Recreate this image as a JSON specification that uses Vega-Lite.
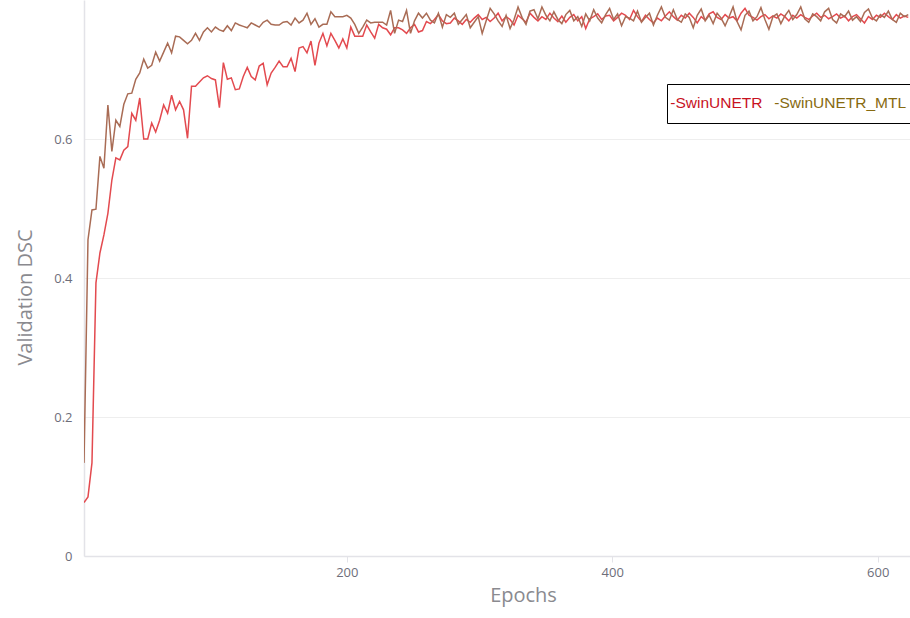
{
"$schema":"https://vega.github.io/schema/vega-lite/v6.json",
"width":826,"height":556,
"autosize":{"type":"none"},
"padding":{"left":84,"top":0,"right":0,"bottom":62},
"background":"white",
"config":{"view":{"stroke":null},"font":"Open Sans"},
"data":{"values":[
{"epoch":2,"SwinUNETR":0.077,"SwinUNETR_MTL":0.134},
{"epoch":5,"SwinUNETR":0.085,"SwinUNETR_MTL":0.455},
{"epoch":8,"SwinUNETR":0.134,"SwinUNETR_MTL":0.498},
{"epoch":11,"SwinUNETR":0.393,"SwinUNETR_MTL":0.499},
{"epoch":14,"SwinUNETR":0.436,"SwinUNETR_MTL":0.575},
{"epoch":17,"SwinUNETR":0.462,"SwinUNETR_MTL":0.558},
{"epoch":20,"SwinUNETR":0.493,"SwinUNETR_MTL":0.649},
{"epoch":23,"SwinUNETR":0.541,"SwinUNETR_MTL":0.582},
{"epoch":26,"SwinUNETR":0.573,"SwinUNETR_MTL":0.627},
{"epoch":29,"SwinUNETR":0.570,"SwinUNETR_MTL":0.618},
{"epoch":32,"SwinUNETR":0.584,"SwinUNETR_MTL":0.650},
{"epoch":35,"SwinUNETR":0.589,"SwinUNETR_MTL":0.665},
{"epoch":38,"SwinUNETR":0.637,"SwinUNETR_MTL":0.666},
{"epoch":41,"SwinUNETR":0.627,"SwinUNETR_MTL":0.686},
{"epoch":44,"SwinUNETR":0.659,"SwinUNETR_MTL":0.695},
{"epoch":47,"SwinUNETR":0.600,"SwinUNETR_MTL":0.715},
{"epoch":50,"SwinUNETR":0.600,"SwinUNETR_MTL":0.702},
{"epoch":53,"SwinUNETR":0.623,"SwinUNETR_MTL":0.706},
{"epoch":56,"SwinUNETR":0.610,"SwinUNETR_MTL":0.725},
{"epoch":59,"SwinUNETR":0.627,"SwinUNETR_MTL":0.712},
{"epoch":62,"SwinUNETR":0.649,"SwinUNETR_MTL":0.725},
{"epoch":65,"SwinUNETR":0.637,"SwinUNETR_MTL":0.738},
{"epoch":68,"SwinUNETR":0.663,"SwinUNETR_MTL":0.724},
{"epoch":71,"SwinUNETR":0.642,"SwinUNETR_MTL":0.748},
{"epoch":74,"SwinUNETR":0.654,"SwinUNETR_MTL":0.747},
{"epoch":77,"SwinUNETR":0.642,"SwinUNETR_MTL":0.742},
{"epoch":80,"SwinUNETR":0.601,"SwinUNETR_MTL":0.737},
{"epoch":83,"SwinUNETR":0.676,"SwinUNETR_MTL":0.742},
{"epoch":86,"SwinUNETR":0.676,"SwinUNETR_MTL":0.752},
{"epoch":89,"SwinUNETR":0.682,"SwinUNETR_MTL":0.742},
{"epoch":92,"SwinUNETR":0.688,"SwinUNETR_MTL":0.754},
{"epoch":95,"SwinUNETR":0.691,"SwinUNETR_MTL":0.760},
{"epoch":98,"SwinUNETR":0.687,"SwinUNETR_MTL":0.754},
{"epoch":101,"SwinUNETR":0.685,"SwinUNETR_MTL":0.761},
{"epoch":104,"SwinUNETR":0.645,"SwinUNETR_MTL":0.757},
{"epoch":107,"SwinUNETR":0.710,"SwinUNETR_MTL":0.755},
{"epoch":110,"SwinUNETR":0.686,"SwinUNETR_MTL":0.763},
{"epoch":113,"SwinUNETR":0.688,"SwinUNETR_MTL":0.756},
{"epoch":116,"SwinUNETR":0.671,"SwinUNETR_MTL":0.767},
{"epoch":119,"SwinUNETR":0.672,"SwinUNETR_MTL":0.764},
{"epoch":122,"SwinUNETR":0.690,"SwinUNETR_MTL":0.762},
{"epoch":125,"SwinUNETR":0.703,"SwinUNETR_MTL":0.760},
{"epoch":128,"SwinUNETR":0.690,"SwinUNETR_MTL":0.767},
{"epoch":131,"SwinUNETR":0.685,"SwinUNETR_MTL":0.764},
{"epoch":134,"SwinUNETR":0.705,"SwinUNETR_MTL":0.761},
{"epoch":137,"SwinUNETR":0.709,"SwinUNETR_MTL":0.768},
{"epoch":140,"SwinUNETR":0.678,"SwinUNETR_MTL":0.771},
{"epoch":143,"SwinUNETR":0.695,"SwinUNETR_MTL":0.765},
{"epoch":146,"SwinUNETR":0.703,"SwinUNETR_MTL":0.764},
{"epoch":149,"SwinUNETR":0.712,"SwinUNETR_MTL":0.764},
{"epoch":152,"SwinUNETR":0.704,"SwinUNETR_MTL":0.768},
{"epoch":155,"SwinUNETR":0.704,"SwinUNETR_MTL":0.769},
{"epoch":158,"SwinUNETR":0.716,"SwinUNETR_MTL":0.764},
{"epoch":161,"SwinUNETR":0.697,"SwinUNETR_MTL":0.774},
{"epoch":164,"SwinUNETR":0.731,"SwinUNETR_MTL":0.767},
{"epoch":167,"SwinUNETR":0.733,"SwinUNETR_MTL":0.771},
{"epoch":170,"SwinUNETR":0.724,"SwinUNETR_MTL":0.781},
{"epoch":173,"SwinUNETR":0.741,"SwinUNETR_MTL":0.765},
{"epoch":176,"SwinUNETR":0.706,"SwinUNETR_MTL":0.773},
{"epoch":179,"SwinUNETR":0.738,"SwinUNETR_MTL":0.761},
{"epoch":182,"SwinUNETR":0.752,"SwinUNETR_MTL":0.765},
{"epoch":185,"SwinUNETR":0.734,"SwinUNETR_MTL":0.765},
{"epoch":188,"SwinUNETR":0.752,"SwinUNETR_MTL":0.783},
{"epoch":191,"SwinUNETR":0.742,"SwinUNETR_MTL":0.776},
{"epoch":194,"SwinUNETR":0.731,"SwinUNETR_MTL":0.776},
{"epoch":197,"SwinUNETR":0.744,"SwinUNETR_MTL":0.776},
{"epoch":200,"SwinUNETR":0.731,"SwinUNETR_MTL":0.778},
{"epoch":203,"SwinUNETR":0.761,"SwinUNETR_MTL":0.774},
{"epoch":206,"SwinUNETR":0.748,"SwinUNETR_MTL":0.765},
{"epoch":209,"SwinUNETR":0.748,"SwinUNETR_MTL":0.752},
{"epoch":212,"SwinUNETR":0.748,"SwinUNETR_MTL":0.761},
{"epoch":215,"SwinUNETR":0.764,"SwinUNETR_MTL":0.771},
{"epoch":218,"SwinUNETR":0.754,"SwinUNETR_MTL":0.767},
{"epoch":221,"SwinUNETR":0.745,"SwinUNETR_MTL":0.768},
{"epoch":224,"SwinUNETR":0.765,"SwinUNETR_MTL":0.768},
{"epoch":227,"SwinUNETR":0.760,"SwinUNETR_MTL":0.768},
{"epoch":230,"SwinUNETR":0.758,"SwinUNETR_MTL":0.764},
{"epoch":233,"SwinUNETR":0.750,"SwinUNETR_MTL":0.785},
{"epoch":236,"SwinUNETR":0.760,"SwinUNETR_MTL":0.752},
{"epoch":239,"SwinUNETR":0.760,"SwinUNETR_MTL":0.771},
{"epoch":242,"SwinUNETR":0.757,"SwinUNETR_MTL":0.769},
{"epoch":245,"SwinUNETR":0.752,"SwinUNETR_MTL":0.785},
{"epoch":248,"SwinUNETR":0.760,"SwinUNETR_MTL":0.752},
{"epoch":251,"SwinUNETR":0.765,"SwinUNETR_MTL":0.770},
{"epoch":254,"SwinUNETR":0.754,"SwinUNETR_MTL":0.781},
{"epoch":257,"SwinUNETR":0.756,"SwinUNETR_MTL":0.774},
{"epoch":260,"SwinUNETR":0.769,"SwinUNETR_MTL":0.781},
{"epoch":263,"SwinUNETR":0.766,"SwinUNETR_MTL":0.771},
{"epoch":266,"SwinUNETR":0.772,"SwinUNETR_MTL":0.767},
{"epoch":269,"SwinUNETR":0.779,"SwinUNETR_MTL":0.781},
{"epoch":272,"SwinUNETR":0.770,"SwinUNETR_MTL":0.761},
{"epoch":275,"SwinUNETR":0.766,"SwinUNETR_MTL":0.779},
{"epoch":278,"SwinUNETR":0.767,"SwinUNETR_MTL":0.775},
{"epoch":281,"SwinUNETR":0.774,"SwinUNETR_MTL":0.781},
{"epoch":284,"SwinUNETR":0.770,"SwinUNETR_MTL":0.765},
{"epoch":287,"SwinUNETR":0.765,"SwinUNETR_MTL":0.772},
{"epoch":290,"SwinUNETR":0.772,"SwinUNETR_MTL":0.779},
{"epoch":293,"SwinUNETR":0.768,"SwinUNETR_MTL":0.760},
{"epoch":296,"SwinUNETR":0.774,"SwinUNETR_MTL":0.768},
{"epoch":299,"SwinUNETR":0.779,"SwinUNETR_MTL":0.776},
{"epoch":302,"SwinUNETR":0.772,"SwinUNETR_MTL":0.752},
{"epoch":305,"SwinUNETR":0.775,"SwinUNETR_MTL":0.770},
{"epoch":308,"SwinUNETR":0.769,"SwinUNETR_MTL":0.788},
{"epoch":311,"SwinUNETR":0.774,"SwinUNETR_MTL":0.780},
{"epoch":314,"SwinUNETR":0.781,"SwinUNETR_MTL":0.770},
{"epoch":317,"SwinUNETR":0.770,"SwinUNETR_MTL":0.762},
{"epoch":320,"SwinUNETR":0.776,"SwinUNETR_MTL":0.778},
{"epoch":323,"SwinUNETR":0.772,"SwinUNETR_MTL":0.759},
{"epoch":326,"SwinUNETR":0.764,"SwinUNETR_MTL":0.772},
{"epoch":329,"SwinUNETR":0.778,"SwinUNETR_MTL":0.790},
{"epoch":332,"SwinUNETR":0.773,"SwinUNETR_MTL":0.775},
{"epoch":335,"SwinUNETR":0.768,"SwinUNETR_MTL":0.765},
{"epoch":338,"SwinUNETR":0.781,"SwinUNETR_MTL":0.784},
{"epoch":341,"SwinUNETR":0.775,"SwinUNETR_MTL":0.786},
{"epoch":344,"SwinUNETR":0.770,"SwinUNETR_MTL":0.773},
{"epoch":347,"SwinUNETR":0.776,"SwinUNETR_MTL":0.790},
{"epoch":350,"SwinUNETR":0.772,"SwinUNETR_MTL":0.778},
{"epoch":353,"SwinUNETR":0.781,"SwinUNETR_MTL":0.770},
{"epoch":356,"SwinUNETR":0.774,"SwinUNETR_MTL":0.783},
{"epoch":359,"SwinUNETR":0.769,"SwinUNETR_MTL":0.772},
{"epoch":362,"SwinUNETR":0.777,"SwinUNETR_MTL":0.766},
{"epoch":365,"SwinUNETR":0.768,"SwinUNETR_MTL":0.779},
{"epoch":368,"SwinUNETR":0.775,"SwinUNETR_MTL":0.785},
{"epoch":371,"SwinUNETR":0.779,"SwinUNETR_MTL":0.770},
{"epoch":374,"SwinUNETR":0.770,"SwinUNETR_MTL":0.776},
{"epoch":377,"SwinUNETR":0.776,"SwinUNETR_MTL":0.762},
{"epoch":380,"SwinUNETR":0.759,"SwinUNETR_MTL":0.780},
{"epoch":383,"SwinUNETR":0.773,"SwinUNETR_MTL":0.770},
{"epoch":386,"SwinUNETR":0.776,"SwinUNETR_MTL":0.786},
{"epoch":389,"SwinUNETR":0.780,"SwinUNETR_MTL":0.774},
{"epoch":392,"SwinUNETR":0.772,"SwinUNETR_MTL":0.767},
{"epoch":395,"SwinUNETR":0.777,"SwinUNETR_MTL":0.779},
{"epoch":398,"SwinUNETR":0.778,"SwinUNETR_MTL":0.788},
{"epoch":401,"SwinUNETR":0.770,"SwinUNETR_MTL":0.772},
{"epoch":404,"SwinUNETR":0.775,"SwinUNETR_MTL":0.780},
{"epoch":407,"SwinUNETR":0.781,"SwinUNETR_MTL":0.763},
{"epoch":410,"SwinUNETR":0.778,"SwinUNETR_MTL":0.776},
{"epoch":413,"SwinUNETR":0.772,"SwinUNETR_MTL":0.774},
{"epoch":416,"SwinUNETR":0.785,"SwinUNETR_MTL":0.770},
{"epoch":419,"SwinUNETR":0.776,"SwinUNETR_MTL":0.784},
{"epoch":422,"SwinUNETR":0.769,"SwinUNETR_MTL":0.768},
{"epoch":425,"SwinUNETR":0.778,"SwinUNETR_MTL":0.775},
{"epoch":428,"SwinUNETR":0.772,"SwinUNETR_MTL":0.781},
{"epoch":431,"SwinUNETR":0.767,"SwinUNETR_MTL":0.764},
{"epoch":434,"SwinUNETR":0.774,"SwinUNETR_MTL":0.778},
{"epoch":437,"SwinUNETR":0.770,"SwinUNETR_MTL":0.790},
{"epoch":440,"SwinUNETR":0.777,"SwinUNETR_MTL":0.775},
{"epoch":443,"SwinUNETR":0.783,"SwinUNETR_MTL":0.771},
{"epoch":446,"SwinUNETR":0.776,"SwinUNETR_MTL":0.786},
{"epoch":449,"SwinUNETR":0.771,"SwinUNETR_MTL":0.772},
{"epoch":452,"SwinUNETR":0.778,"SwinUNETR_MTL":0.768},
{"epoch":455,"SwinUNETR":0.774,"SwinUNETR_MTL":0.780},
{"epoch":458,"SwinUNETR":0.781,"SwinUNETR_MTL":0.775},
{"epoch":461,"SwinUNETR":0.775,"SwinUNETR_MTL":0.760},
{"epoch":464,"SwinUNETR":0.767,"SwinUNETR_MTL":0.778},
{"epoch":467,"SwinUNETR":0.776,"SwinUNETR_MTL":0.787},
{"epoch":470,"SwinUNETR":0.771,"SwinUNETR_MTL":0.770},
{"epoch":473,"SwinUNETR":0.780,"SwinUNETR_MTL":0.778},
{"epoch":476,"SwinUNETR":0.783,"SwinUNETR_MTL":0.766},
{"epoch":479,"SwinUNETR":0.775,"SwinUNETR_MTL":0.781},
{"epoch":482,"SwinUNETR":0.772,"SwinUNETR_MTL":0.774},
{"epoch":485,"SwinUNETR":0.779,"SwinUNETR_MTL":0.763},
{"epoch":488,"SwinUNETR":0.774,"SwinUNETR_MTL":0.776},
{"epoch":491,"SwinUNETR":0.776,"SwinUNETR_MTL":0.790},
{"epoch":494,"SwinUNETR":0.770,"SwinUNETR_MTL":0.769},
{"epoch":497,"SwinUNETR":0.781,"SwinUNETR_MTL":0.757},
{"epoch":500,"SwinUNETR":0.788,"SwinUNETR_MTL":0.778},
{"epoch":503,"SwinUNETR":0.778,"SwinUNETR_MTL":0.784},
{"epoch":506,"SwinUNETR":0.775,"SwinUNETR_MTL":0.770},
{"epoch":509,"SwinUNETR":0.771,"SwinUNETR_MTL":0.776},
{"epoch":512,"SwinUNETR":0.776,"SwinUNETR_MTL":0.789},
{"epoch":515,"SwinUNETR":0.779,"SwinUNETR_MTL":0.772},
{"epoch":518,"SwinUNETR":0.773,"SwinUNETR_MTL":0.758},
{"epoch":521,"SwinUNETR":0.777,"SwinUNETR_MTL":0.776},
{"epoch":524,"SwinUNETR":0.774,"SwinUNETR_MTL":0.780},
{"epoch":527,"SwinUNETR":0.780,"SwinUNETR_MTL":0.766},
{"epoch":530,"SwinUNETR":0.776,"SwinUNETR_MTL":0.777},
{"epoch":533,"SwinUNETR":0.770,"SwinUNETR_MTL":0.785},
{"epoch":536,"SwinUNETR":0.778,"SwinUNETR_MTL":0.772},
{"epoch":539,"SwinUNETR":0.774,"SwinUNETR_MTL":0.779},
{"epoch":542,"SwinUNETR":0.779,"SwinUNETR_MTL":0.790},
{"epoch":545,"SwinUNETR":0.775,"SwinUNETR_MTL":0.773},
{"epoch":548,"SwinUNETR":0.772,"SwinUNETR_MTL":0.768},
{"epoch":551,"SwinUNETR":0.777,"SwinUNETR_MTL":0.780},
{"epoch":554,"SwinUNETR":0.781,"SwinUNETR_MTL":0.776},
{"epoch":557,"SwinUNETR":0.775,"SwinUNETR_MTL":0.770},
{"epoch":560,"SwinUNETR":0.778,"SwinUNETR_MTL":0.783},
{"epoch":563,"SwinUNETR":0.773,"SwinUNETR_MTL":0.788},
{"epoch":566,"SwinUNETR":0.776,"SwinUNETR_MTL":0.772},
{"epoch":569,"SwinUNETR":0.780,"SwinUNETR_MTL":0.767},
{"epoch":572,"SwinUNETR":0.774,"SwinUNETR_MTL":0.780},
{"epoch":575,"SwinUNETR":0.777,"SwinUNETR_MTL":0.776},
{"epoch":578,"SwinUNETR":0.770,"SwinUNETR_MTL":0.784},
{"epoch":581,"SwinUNETR":0.776,"SwinUNETR_MTL":0.771},
{"epoch":584,"SwinUNETR":0.779,"SwinUNETR_MTL":0.776},
{"epoch":587,"SwinUNETR":0.773,"SwinUNETR_MTL":0.769},
{"epoch":590,"SwinUNETR":0.767,"SwinUNETR_MTL":0.782},
{"epoch":593,"SwinUNETR":0.776,"SwinUNETR_MTL":0.787},
{"epoch":596,"SwinUNETR":0.772,"SwinUNETR_MTL":0.774},
{"epoch":599,"SwinUNETR":0.778,"SwinUNETR_MTL":0.770},
{"epoch":602,"SwinUNETR":0.775,"SwinUNETR_MTL":0.779},
{"epoch":605,"SwinUNETR":0.781,"SwinUNETR_MTL":0.775},
{"epoch":608,"SwinUNETR":0.776,"SwinUNETR_MTL":0.784},
{"epoch":611,"SwinUNETR":0.772,"SwinUNETR_MTL":0.772},
{"epoch":614,"SwinUNETR":0.779,"SwinUNETR_MTL":0.768},
{"epoch":617,"SwinUNETR":0.774,"SwinUNETR_MTL":0.781},
{"epoch":620,"SwinUNETR":0.777,"SwinUNETR_MTL":0.776},
{"epoch":623,"SwinUNETR":0.775,"SwinUNETR_MTL":0.779}
]},
"transform":[{"fold":["SwinUNETR","SwinUNETR_MTL"],"as":["model","dsc"]}],
"mark":{"type":"line","strokeWidth":1.5,"clip":true,"interpolate":"linear"},
"encoding":{
"x":{"field":"epoch","type":"quantitative",
"scale":{"domain":[2,624.3],"nice":false,"zero":false},
"axis":{"values":[200,400,600],"title":"Epochs","grid":false,
"domainColor":"#e3e3e8","domainWidth":1.5,"tickColor":"#e3e3e8","tickSize":6,"tickWidth":1,
"labelFont":"Open Sans","labelFontSize":13,"labelColor":"#6e6e7a","labelPadding":4,
"titleFont":"Open Sans","titleFontSize":20,"titleFontWeight":"normal","titleColor":"#8a8a8f","titlePadding":6,"titleX":439}},
"y":{"field":"dsc","type":"quantitative",
"scale":{"domain":[0,0.8],"nice":false},
"axis":{"values":[0,0.2,0.4,0.6],"title":"Validation DSC","format":"~g",
"grid":true,"gridColor":"#eeeeee","gridWidth":1,"ticks":false,
"domainColor":"#e3e3e8","domainWidth":1.5,
"labelFont":"Open Sans","labelFontSize":13,"labelColor":"#6e6e7a","labelPadding":12,
"titleFont":"Open Sans","titleFontSize":20,"titleFontWeight":"normal","titleColor":"#8a8a8f","titlePadding":18,"titleY":297}},
"color":{"field":"model","type":"nominal",
"scale":{"domain":["SwinUNETR","SwinUNETR_MTL"],"range":["#e34a4f","#a96c55"]},
"legend":{"title":null,"orient":"none","legendX":583,"legendY":84,"direction":"horizontal",
"strokeColor":"#000000","fillColor":"#ffffff","padding":10.75,
"symbolSize":0.01,"symbolStrokeWidth":0,"symbolOpacity":0,"labelOffset":-23,"columnPadding":11,
"labelExpr":"'-' + datum.label","labelFont":"Liberation Sans","labelFontSize":15.5,"labelLimit":300,
"encode":{"labels":{"update":{"fill":{"signal":"datum.value === 'SwinUNETR' ? '#c8121f' : '#876a10'"}}}}}}
}
}
